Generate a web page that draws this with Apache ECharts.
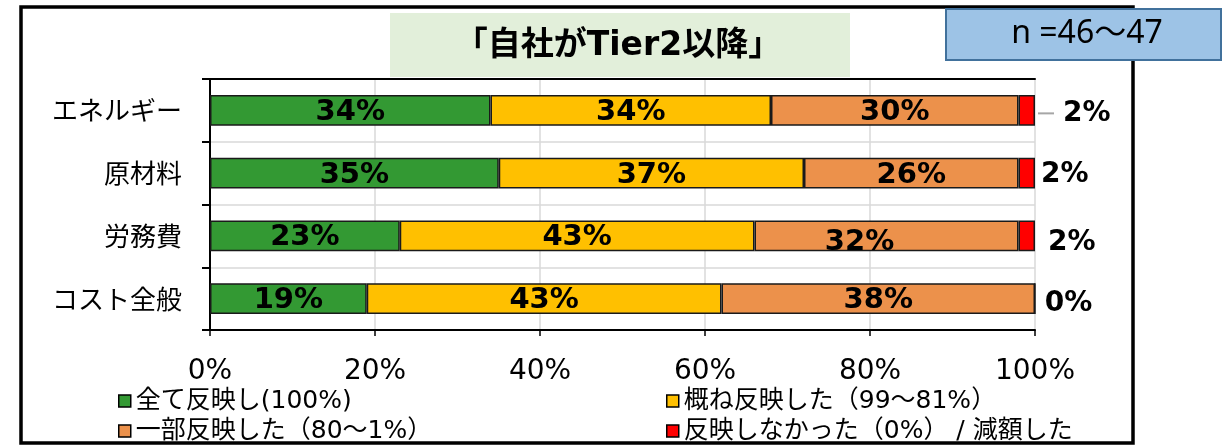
<!DOCTYPE html>
<html>
<head>
<meta charset="utf-8">
<script src="https://cdn.jsdelivr.net/npm/echarts@6/dist/echarts.min.js"></script>
<style>
  html, body { margin: 0; padding: 0; background: #fff; }
  #chart { width: 1232px; height: 445px; }
</style>
</head>
<body>
<div id="chart"></div>
<script>
// categories (top to bottom) and the four answer groups, in %
var categories = ['エネルギー', '原材料', '労務費', 'コスト全般'];
var allReflected = [34, 35, 23, 19];      // 全て反映し(100%)
var mostlyReflected = [34, 37, 43, 43];   // 概ね反映した（99～81%）
var partlyReflected = [30, 26, 32, 38];   // 一部反映した（80～1%）
var notReflected = [2, 2, 2, 0];          // 反映しなかった（0%） / 減額した
var seriesNames = ['全て反映し(100%)', '概ね反映した（99～81%）', '一部反映した（80～1%）', '反映しなかった（0%） / 減額した'];
var xTicks = [0, 20, 40, 60, 80, 100];

var CJK = '"Noto Sans CJK JP", "Noto Sans", sans-serif';
var MIX = '"DejaVu Sans", "Noto Sans CJK JP", sans-serif';

var chart = echarts.init(document.getElementById('chart'));

function insideLabel() {
  return {
    show: true,
    position: 'inside',
    offset: [0, 2],
    color: '#000',
    fontFamily: MIX,
    fontSize: 29,
    fontWeight: 'bold',
    formatter: function (p) { return p.value + '%'; }
  };
}

var barBorder = { borderColor: '#1a1a1a', borderWidth: 1.5 };

// label tweaks that match the hand-placed labels of the original
var orangeData = partlyReflected.map(function (v, i) {
  return i === 2 ? { value: v, label: { offset: [-27, 7] } } : v;
});
var redOffsets = [[0, 3], [3, 2], [10, 7], [6, 5]];
var redData = notReflected.map(function (v, i) {
  return { value: v, label: { offset: redOffsets[i] } };
});

// one legend per item so the two columns line up as in the original
var legendSpots = [[113, 383], [661, 383], [113, 413], [661, 413]];
var legends = seriesNames.map(function (name, i) {
  return {
    data: [name], left: legendSpots[i][0], top: legendSpots[i][1],
    itemWidth: 12, itemHeight: 12, icon: 'rect', itemGap: 0,
    itemStyle: { borderColor: '#000', borderWidth: 1.5 },
    textStyle: { fontSize: 25, lineHeight: 26, color: '#000', fontFamily: MIX }
  };
});

var option = {
  animation: false,
  textStyle: { fontFamily: CJK },
  graphic: [
    { type: 'rect', z: 0, silent: true,
      shape: { x: 21, y: 7, width: 1112, height: 436 },
      style: { fill: 'none', stroke: '#000', lineWidth: 3.5 } },
    { type: 'rect', z: 1,
      shape: { x: 390, y: 13, width: 460, height: 64 },
      style: { fill: '#E2EFDA' } },
    { type: 'text', z: 2, x: 618, y: 46,
      style: { text: '「自社がTier2以降」', font: 'bold 33px ' + MIX, fill: '#000', align: 'center', verticalAlign: 'middle' } },
    { type: 'rect', z: 3,
      shape: { x: 946, y: 9, width: 275, height: 51 },
      style: { fill: '#9DC3E6', stroke: '#41719C', lineWidth: 2 } },
    { type: 'text', z: 4, x: 1087, y: 34,
      style: { text: 'n =46～47', font: '32px "Noto Sans", "Noto Sans CJK JP", sans-serif', fill: '#000', align: 'center', verticalAlign: 'middle' } }
  ],
  legend: legends,
  grid: {
    left: 210, right: 197, top: 79, bottom: 115
  },
  xAxis: [
    {
      type: 'value', min: xTicks[0], max: xTicks[xTicks.length - 1], interval: 20,
      axisLine: { show: true, lineStyle: { color: '#000', width: 2 } },
      axisTick: { show: true, length: 6, lineStyle: { color: '#000', width: 1.5 } },
      splitLine: { show: true, lineStyle: { color: '#D9D9D9', width: 1.5 } },
      axisLabel: { margin: 28, fontSize: 28, color: '#000', fontFamily: MIX, formatter: '{value}%' }
    },
    {
      // plot frame, top edge
      type: 'value', position: 'top', min: 0, max: 100,
      axisLine: { show: true, lineStyle: { color: '#000', width: 2 } },
      axisTick: { show: false }, axisLabel: { show: false }, splitLine: { show: false }
    }
  ],
  yAxis: [
    {
      type: 'category', data: categories, inverse: true,
      axisLine: { show: true, lineStyle: { color: '#000', width: 2 } },
      axisTick: { show: true, length: 8, lineStyle: { color: '#000', width: 2 } },
      splitLine: { show: true, lineStyle: { color: '#D9D9D9', width: 1.5 } },
      axisLabel: { margin: 28, fontSize: 26, color: '#000', fontFamily: CJK }
    },
    {
      // plot frame, right edge
      type: 'category', data: categories, inverse: true, position: 'right',
      axisLine: { show: true, lineStyle: { color: '#000', width: 2 } },
      axisTick: { show: false }, axisLabel: { show: false }, splitLine: { show: false }
    }
  ],
  series: [
    { name: seriesNames[0], type: 'bar', stack: 'all', barWidth: '49%',
      itemStyle: Object.assign({ color: '#339933' }, barBorder),
      label: insideLabel(), data: allReflected },
    { name: seriesNames[1], type: 'bar', stack: 'all',
      itemStyle: Object.assign({ color: '#FFC000' }, barBorder),
      label: insideLabel(), data: mostlyReflected },
    { name: seriesNames[2], type: 'bar', stack: 'all',
      itemStyle: Object.assign({ color: '#EC914B' }, barBorder),
      label: insideLabel(), data: orangeData },
    { name: seriesNames[3], type: 'bar', stack: 'all',
      itemStyle: Object.assign({ color: '#FF0000' }, barBorder),
      label: {
        show: true, position: 'right', distance: 3,
        formatter: function (p) {
          return p.dataIndex === 0 ? '{l|}{g|}{v|' + p.value + '%}' : '{v|' + p.value + '%}';
        },
        rich: {
          l: { width: 16, height: 2, backgroundColor: '#A6A6A6' },
          g: { width: 9 },
          v: { fontSize: 28, fontWeight: 'bold', color: '#000', fontFamily: MIX }
        }
      },
      data: redData }
  ]
};

chart.setOption(option);
</script>
</body>
</html>
